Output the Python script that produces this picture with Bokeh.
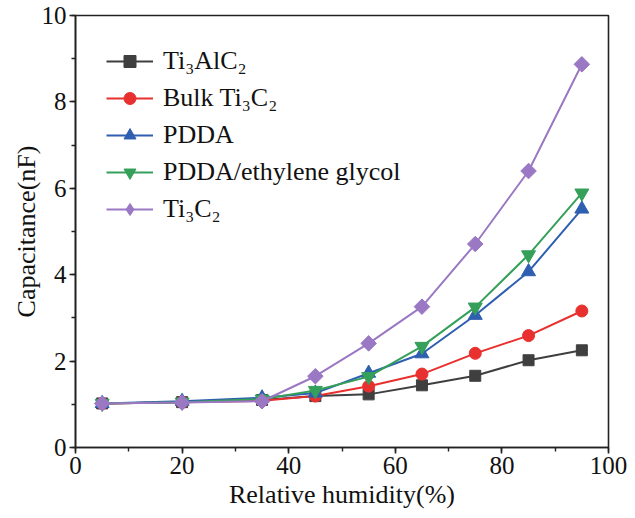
import math
from bokeh.plotting import figure
from bokeh.models import Range1d, SingleIntervalTicker, Legend, LegendItem
from bokeh.embed import file_html
from bokeh.resources import INLINE

# Relative humidity (%) and capacitance (nF) of each sensing material
humidity = [5, 20, 35, 45, 55, 65, 75, 85, 95]
ti3alc2 = [1.02, 1.05, 1.10, 1.19, 1.23, 1.44, 1.66, 2.02, 2.25]
bulk_ti3c2 = [1.02, 1.05, 1.08, 1.19, 1.42, 1.70, 2.18, 2.59, 3.16]
pdda = [1.02, 1.07, 1.15, 1.26, 1.72, 2.17, 3.06, 4.07, 5.52]
pdda_eg = [1.02, 1.05, 1.12, 1.32, 1.64, 2.34, 3.25, 4.46, 5.89]
ti3c2 = [1.02, 1.04, 1.07, 1.65, 2.41, 3.26, 4.71, 6.40, 8.87]

labels = ["Ti₃AlC₂", "Bulk Ti₃C₂", "PDDA", "PDDA/ethylene glycol", "Ti₃C₂"]
series = [ti3alc2, bulk_ti3c2, pdda, pdda_eg, ti3c2]
colors = ["#3f3f3f", "#e8302e", "#2f5fb0", "#35a05a", "#9b78c4"]
markers = ["square", "circle", "triangle", "inverted_triangle", "diamond"]
sizes = [11, 12, 14, 14, 14]

FONT = "'Liberation Serif', 'Times New Roman', serif"

p = figure(width=635, height=518, output_backend="svg", toolbar_location=None,
           x_range=Range1d(0, 100), y_range=Range1d(0, 10),
           min_border_left=75, min_border_right=27,
           min_border_top=15, min_border_bottom=71)
p.background_fill_color = "white"
p.border_fill_color = "white"
p.outline_line_color = "#222222"
p.outline_line_width = 1.6
p.xgrid.visible = False
p.ygrid.visible = False

p.xaxis.ticker = SingleIntervalTicker(interval=20, num_minor_ticks=2)
p.yaxis.ticker = SingleIntervalTicker(interval=2, num_minor_ticks=2)
p.xaxis.axis_label = "Relative humidity(%)"
p.yaxis.axis_label = "Capacitance(nF)"

for ax in (p.xaxis, p.yaxis):
    ax.axis_line_color = "#222222"
    ax.axis_line_width = 1.6
    ax.major_tick_line_color = "#222222"
    ax.major_tick_line_width = 1.6
    ax.minor_tick_line_color = "#222222"
    ax.minor_tick_line_width = 1.4
    ax.major_tick_out = 6
    ax.major_tick_in = 0
    ax.minor_tick_out = 4
    ax.minor_tick_in = 0
    ax.major_label_text_font = FONT
    ax.major_label_text_font_size = "25px"
    ax.major_label_text_color = "#111111"
    ax.axis_label_text_font = FONT
    ax.axis_label_text_font_size = "26px"
    ax.axis_label_text_font_style = "normal"
    ax.axis_label_text_color = "#111111"

p.xaxis.major_label_standoff = 3
p.xaxis.axis_label_standoff = 3
p.yaxis.major_label_standoff = 3
p.yaxis.axis_label_standoff = -2

items = []
for lab, ys, c, m, s in zip(labels, series, colors, markers, sizes):
    ln = p.line(humidity, ys, line_color=c, line_width=2)
    sc = p.scatter(humidity, ys, marker=m, size=s, fill_color=c, line_color=c)
    if m == "diamond":
        # square diamonds: a square turned by 45 degrees over the narrow marker
        p.scatter(humidity, ys, marker="square", angle=math.pi / 4, size=11,
                  fill_color=c, line_color=c)
    items.append(LegendItem(label=lab, renderers=[ln, sc]))

legend = Legend(items=items, location="top_left", margin=30, padding=1,
                spacing=7, glyph_width=47, glyph_height=30,
                label_standoff=10, label_text_font=FONT,
                label_text_font_size="26px", label_text_color="#111111",
                background_fill_alpha=0, border_line_alpha=0)
p.add_layout(legend, "center")

open("out.html", "w").write(file_html(p, INLINE))
